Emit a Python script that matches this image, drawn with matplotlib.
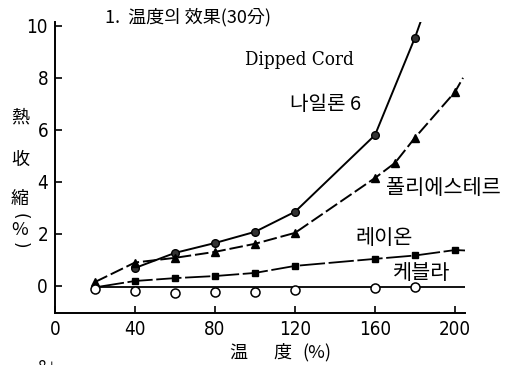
import matplotlib
matplotlib.use("Agg")
import matplotlib.pyplot as plt

plt.rcParams['font.family'] = ['Noto Sans CJK KR', 'DejaVu Sans']

# temperature (x) and heat shrinkage (%)
nylon_x = [40, 60, 80, 100, 120, 160, 180]
nylon_y = [0.69, 1.27, 1.65, 2.08, 2.85, 5.8, 9.55]
nylon_line_x = [40, 60, 80, 100, 120, 160, 180, 183]
nylon_line_y = [0.69, 1.27, 1.65, 2.08, 2.85, 5.8, 9.55, 10.2]

poly_x = [20, 40, 60, 80, 100, 120, 160, 170, 180, 200]
poly_y = [0.15, 0.9, 1.08, 1.31, 1.62, 2.04, 4.15, 4.73, 5.7, 7.46]
poly_line_x = [20, 40, 60, 80, 100, 120, 160, 170, 180, 200, 204]
poly_line_y = [0.15, 0.9, 1.08, 1.31, 1.62, 2.04, 4.15, 4.73, 5.7, 7.46, 8.0]

rayon_x = [40, 60, 80, 100, 120, 160, 180, 200]
rayon_y = [0.19, 0.3, 0.38, 0.5, 0.77, 1.04, 1.17, 1.38]
rayon_line_x = [22, 40, 60, 80, 100, 120, 160, 180, 200, 206]
rayon_line_y = [-0.03, 0.19, 0.3, 0.38, 0.5, 0.77, 1.04, 1.17, 1.38, 1.36]

kevlar_x = [20, 40, 60, 80, 100, 120, 160, 180]
kevlar_y = [-0.13, -0.19, -0.27, -0.22, -0.24, -0.15, -0.09, -0.03]
kevlar_line_x = [22, 206]
kevlar_line_y = [-0.06, -0.06]

xticks = [0, 40, 80, 120, 160, 200]
yticks = [0, 2, 4, 6, 8, 10]

fig = plt.figure(figsize=(5.09, 3.65), dpi=100)
ax = fig.add_axes([0.108, 0.1425, 0.8056, 0.7975])

ax.plot(nylon_line_x, nylon_line_y, color='black', lw=1.4)
ax.plot(nylon_x, nylon_y, 'o', color='black', ms=5.5, mfc='#333333', mec='black')

ax.plot(poly_line_x, poly_line_y, color='black', lw=1.4, dashes=(7, 2))
ax.plot(poly_x, poly_y, '^', color='black', ms=6)

ax.plot(rayon_line_x, rayon_line_y, color='black', lw=1.3, dashes=(14, 2))
ax.plot(rayon_x, rayon_y, 's', color='black', ms=4.5)

ax.plot(kevlar_line_x, kevlar_line_y, color='black', lw=1.3)
ax.plot(kevlar_x, kevlar_y, 'o', ms=6.5, mfc='white', mec='black', mew=1.1)

ax.set_xlim(0, 205)
ax.set_ylim(-1.04, 10.15)
ax.set_xticks(xticks)
ax.set_yticks(yticks)
ax.tick_params(direction='in', length=5, width=1.2, labelsize=13.5, pad=5)
for lab in ax.get_xticklabels() + ax.get_yticklabels():
    lab.set_family('DejaVu Sans')
    lab.set_stretch('condensed')
for s in ['top', 'right']:
    ax.spines[s].set_visible(False)
for s in ['left', 'bottom']:
    ax.spines[s].set_linewidth(1.4)

# title and annotations
fig.text(105 / 509, 1 - 17 / 365, '1.  温度의 效果(30分)', fontsize=13, va='center', ha='left')
fig.text(245 / 509, 1 - 60 / 365, 'Dipped Cord', fontsize=13.5, va='center', ha='left',
         family='DejaVu Serif', stretch='condensed')
fig.text(290 / 509, 1 - 105 / 365, '나일론 6', fontsize=14.5, va='center', ha='left')
fig.text(386 / 509, 1 - 188 / 365, '폴리에스테르', fontsize=15, va='center', ha='left')
fig.text(355 / 509, 1 - 238 / 365, '레이온', fontsize=15, va='center', ha='left')
fig.text(393 / 509, 1 - 273 / 365, '케블라', fontsize=15, va='center', ha='left')

# vertical y label
for ch, py in [('熱', 118), ('收', 160), ('縮', 199)]:
    fig.text(20 / 509, 1 - py / 365, ch, fontsize=13, ha='center', va='center')
fig.text(20 / 509, 1 - 216 / 365, '(', fontsize=12, ha='center', va='center',
         rotation=-90, family='DejaVu Sans')
fig.text(20 / 509, 1 - 230 / 365, '%', fontsize=13, ha='center', va='center', style='italic')
fig.text(20 / 509, 1 - 245 / 365, ')', fontsize=12, ha='center', va='center',
         rotation=-90, family='DejaVu Sans')

# x label
fig.text(238 / 509, 1 - 353 / 365, '温', fontsize=13, ha='center', va='center')
fig.text(282 / 509, 1 - 353 / 365, '度', fontsize=13, ha='center', va='center')
fig.text(317 / 509, 1 - 353 / 365, '(%)', fontsize=13, ha='center', va='center', style='italic')

# cut off start of next panel
fig.text(38 / 509, 1 - 368 / 365, '8 ⊢', fontsize=11, ha='left', va='center')

fig.savefig('out.png', dpi=100)
